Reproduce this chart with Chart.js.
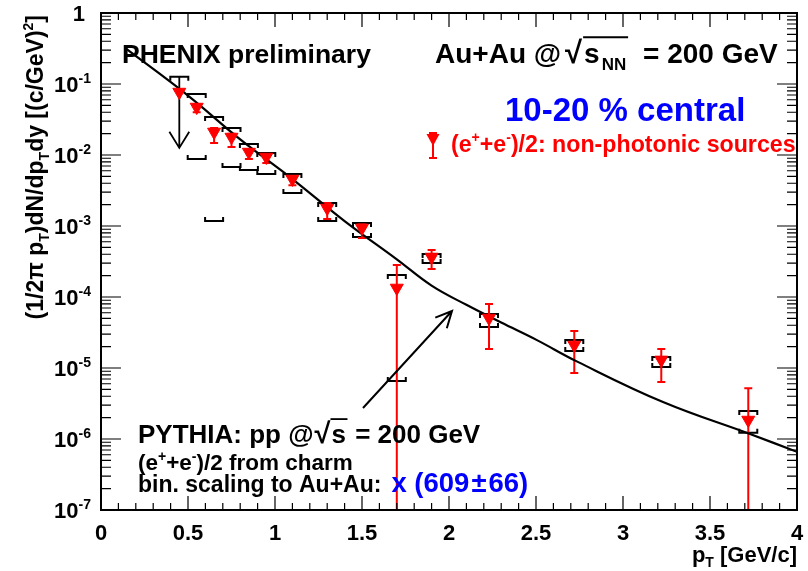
<!DOCTYPE html>
<html>
<head>
<meta charset="utf-8">
<script src="https://cdn.jsdelivr.net/npm/chart.js@4"></script>
<style>
  html, body { margin: 0; padding: 0; background: #fff; }
  #wrap { width: 808px; height: 571px; }
</style>
</head>
<body>
<div id="wrap"><canvas id="myChart" width="808" height="571"></canvas></div>
<script>
(() => {
	"use strict";

	// non-photonic electrons, 10-20 % central
	const ptValues = [0.45, 0.55, 0.65, 0.75, 0.85, 0.95, 1.1, 1.3, 1.5, 1.7, 1.9, 2.23, 2.72, 3.22, 3.72];
	const yieldValues = [0.077, 0.0474, 0.0211, 0.0179, 0.011, 0.00937, 0.00459, 0.00179, 9.4e-4, 1.34e-4, 3.66e-4, 5.06e-5, 2.11e-5, 1.3e-5, 1.85e-6];
	const statLow = [null, 0.04, 0.0147, 0.013, 0.0088, 0.0077, 0.00376, 0.00125, 6.8e-4, 1e-9, 2.48e-4, 1.85e-5, 8.5e-6, 6.35e-6, 1e-9];
	const statHigh = [null, 0.052, 0.024, 0.02, 0.012, 0.01, 0.005, 0.0021, 1.05e-3, 2.82e-4, 4.6e-4, 7.97e-5, 3.32e-5, 1.85e-5, 5.2e-6];
	const sysLow = [null, 0.00879, 0.00118, 0.00678, 0.00615, 0.0054, 0.00292, 0.00118, 7.0e-4, 6.56e-6, 3.0e-4, 3.78e-5, 1.73e-5, 1.03e-5, 1.22e-6];
	const sysHigh = [0.126, 0.0723, 0.0343, 0.024, 0.0143, 0.0107, 0.0054, 0.0021, 0.0011, 2.04e-4, 4.03e-4, 5.76e-5, 2.48e-5, 1.43e-5, 2.48e-6];
	// first point is an upper limit, arrow goes down to here
	const upperLimitTo = [0.0126, null, null, null, null, null, null, null, null, null, null, null, null, null, null];

	// PYTHIA charm curve scaled to Au+Au
	const pythiaPt = [0.14, 0.5, 0.8, 1.1, 1.4, 1.7, 1.9, 2.1, 2.3, 2.5, 2.74, 3.23, 3.73, 4.0];
	const pythiaYield = [0.32, 0.0687, 0.0166, 0.00459, 0.001175, 3.39e-4, 1.445e-4, 7.76e-5, 4.37e-5, 2.51e-5, 1.22e-5, 3.32e-6, 1.175e-6, 6.6e-7];

	// tick labels
	const xTickValues = [0, 0.5, 1, 1.5, 2, 2.5, 3, 3.5, 4];
	const xTickLabels = ["0", "0.5", "1", "1.5", "2", "2.5", "3", "3.5", "4"];
	const yTickValues = [1, 1e-1, 1e-2, 1e-3, 1e-4, 1e-5, 1e-6, 1e-7];
	const yTickExps = [null, "-1", "-2", "-3", "-4", "-5", "-6", "-7"];

	const FONT = "'Liberation Sans', Arial, Helvetica, sans-serif";
	const RED = "#ff0000";
	const BLUE = "#0000ff";

	// text with sup/sub parts: {t, m: "sup"|"sub", s: size, gap: extra px before, over: overline width}
	function richText(ctx, x, y, parts, size, color, align) {
		const small = Math.round(size * 0.62);
		const sizeOf = (p) => p.s || (p.m === "sup" || p.m === "sub" ? small : size);
		let total = 0;
		parts.forEach((p) => {
			ctx.font = "bold " + sizeOf(p) + "px " + FONT;
			total += ctx.measureText(p.t).width + (p.gap || 0);
		});
		let cx = x;
		if (align === "right") cx = x - total;
		if (align === "center") cx = x - total / 2;
		ctx.fillStyle = color;
		ctx.strokeStyle = color;
		ctx.textBaseline = "alphabetic";
		ctx.textAlign = "left";
		parts.forEach((p) => {
			cx += p.gap || 0;
			ctx.font = "bold " + sizeOf(p) + "px " + FONT;
			let dy = 0;
			if (p.m === "sup") dy = -size * 0.42;
			if (p.m === "sub") dy = size * 0.24;
			ctx.fillText(p.t, cx, y + dy);
			if (p.over) {
				ctx.lineWidth = 1.8;
				ctx.beginPath();
				ctx.moveTo(cx - 1, y - size * 0.92);
				ctx.lineTo(cx + p.over, y - size * 0.92);
				ctx.stroke();
			}
			cx += ctx.measureText(p.t).width;
		});
		return total;
	}

	function arrow(ctx, x1, y1, x2, y2, head, spread) {
		const a = Math.atan2(y2 - y1, x2 - x1);
		ctx.beginPath();
		ctx.moveTo(x1, y1);
		ctx.lineTo(x2, y2);
		ctx.moveTo(x2 - head * Math.cos(a - spread), y2 - head * Math.sin(a - spread));
		ctx.lineTo(x2, y2);
		ctx.lineTo(x2 - head * Math.cos(a + spread), y2 - head * Math.sin(a + spread));
		ctx.stroke();
	}

	const errorBars = {
		id: "errorBars",
		beforeDatasetsDraw(chart) {
			const { ctx, chartArea: ca } = chart;
			const xs = chart.scales.x;
			const ys = chart.scales.y;
			ctx.save();
			ctx.beginPath();
			ctx.rect(ca.left, ca.top, ca.right - ca.left, ca.bottom - ca.top);
			ctx.clip();
			ctx.lineCap = "butt";
			// systematic brackets
			ctx.strokeStyle = "#000";
			ctx.lineWidth = 2;
			ptValues.forEach((pt, i) => {
				const px = xs.getPixelForValue(pt);
				if (sysHigh[i] !== null) {
					const py = ys.getPixelForValue(sysHigh[i]);
					ctx.beginPath();
					ctx.moveTo(px - 9, py + 4);
					ctx.lineTo(px - 9, py);
					ctx.lineTo(px + 9, py);
					ctx.lineTo(px + 9, py + 4);
					ctx.stroke();
				}
				if (sysLow[i] !== null) {
					const py = ys.getPixelForValue(sysLow[i]);
					ctx.beginPath();
					ctx.moveTo(px - 9, py - 4);
					ctx.lineTo(px - 9, py);
					ctx.lineTo(px + 9, py);
					ctx.lineTo(px + 9, py - 4);
					ctx.stroke();
				}
				if (upperLimitTo[i] !== null) {
					ctx.lineWidth = 1.8;
					arrow(ctx, px, ys.getPixelForValue(sysHigh[i]), px, ys.getPixelForValue(upperLimitTo[i]), 19, 0.55);
					ctx.lineWidth = 2;
				}
			});
			// statistical error bars
			ctx.strokeStyle = RED;
			ctx.lineWidth = 2;
			ptValues.forEach((pt, i) => {
				if (statLow[i] === null) return;
				const px = xs.getPixelForValue(pt);
				const lo = Math.min(ys.getPixelForValue(statLow[i]), ca.bottom + 5);
				const hi = ys.getPixelForValue(statHigh[i]);
				ctx.beginPath();
				ctx.moveTo(px, lo);
				ctx.lineTo(px, hi);
				ctx.moveTo(px - 4, hi);
				ctx.lineTo(px + 4, hi);
				ctx.moveTo(px - 4, lo);
				ctx.lineTo(px + 4, lo);
				ctx.stroke();
			});
			ctx.restore();
		},
		afterDraw(chart) {
			const { ctx, chartArea: ca } = chart;
			const xs = chart.scales.x;
			const ys = chart.scales.y;
			ctx.save();
			// frame and inward ticks
			ctx.strokeStyle = "#000";
			ctx.lineWidth = 2;
			ctx.strokeRect(ca.left, ca.top, ca.right - ca.left, ca.bottom - ca.top);
			ctx.lineWidth = 1.2;
			ctx.beginPath();
			for (let k = 0; k <= 40; k++) {
				const px = xs.getPixelForValue(k / 10);
				const len = k % 5 === 0 ? 14 : 7;
				ctx.moveTo(px, ca.bottom);
				ctx.lineTo(px, ca.bottom - len);
				ctx.moveTo(px, ca.top);
				ctx.lineTo(px, ca.top + len);
			}
			for (let e = -7; e < 0; e++) {
				for (let m = 1; m <= 9; m++) {
					const py = ys.getPixelForValue(m * Math.pow(10, e));
					const len = m === 1 ? 20 : 10;
					ctx.moveTo(ca.left, py);
					ctx.lineTo(ca.left + len, py);
					ctx.moveTo(ca.right, py);
					ctx.lineTo(ca.right - len, py);
				}
			}
			ctx.stroke();

			// tick labels
			xTickValues.forEach((v, i) => {
				richText(ctx, xs.getPixelForValue(v), ca.bottom + 30, [{ t: xTickLabels[i] }], 22, "#000", "center");
			});
			yTickValues.forEach((v, i) => {
				const py = ys.getPixelForValue(v) + 8;
				if (yTickExps[i] === null) {
					richText(ctx, ca.left - 16, py, [{ t: "1" }], 22, "#000", "right");
				} else {
					richText(ctx, ca.left - 10, py, [{ t: "10" }, { t: yTickExps[i], m: "sup" }], 22, "#000", "right");
				}
			});

			// axis titles
			richText(ctx, ca.right, ca.bottom + 52, [{ t: "p" }, { t: "T", m: "sub" }, { t: " [GeV/c]" }], 22, "#000", "right");
			ctx.save();
			ctx.translate(43, ca.top + 2);
			ctx.rotate(-Math.PI / 2);
			richText(ctx, 0, 0, [
				{ t: "(1/2\u03c0 p" }, { t: "T", m: "sub" }, { t: ")dN/dp" }, { t: "T", m: "sub" },
				{ t: "dy [(c/GeV)" }, { t: "2", m: "sup" }, { t: "]" },
			], 23, "#000", "right");
			ctx.restore();

			// labels
			richText(ctx, 122, 63, [{ t: "PHENIX preliminary" }], 26.5, "#000", "left");
			richText(ctx, 435, 63, [
				{ t: "Au+Au @" }, { t: "\u221a", s: 31, gap: 4 }, { t: "s", over: 44, gap: 2 },
				{ t: "NN", m: "sub", s: 17, gap: 2 }, { t: " = 200 GeV", gap: 9 },
			], 28, "#000", "left");
			richText(ctx, 505, 121, [{ t: "10-20 % central" }], 33, BLUE, "left");
			richText(ctx, 451, 152, [
				{ t: "(e" }, { t: "+", m: "sup" }, { t: "+e" }, { t: "-", m: "sup" }, { t: ")/2: non-photonic sources" },
			], 23.2, RED, "left");
			// legend marker
			ctx.strokeStyle = RED;
			ctx.lineWidth = 2;
			ctx.beginPath();
			ctx.moveTo(433, 133);
			ctx.lineTo(433, 158);
			ctx.moveTo(429, 133);
			ctx.lineTo(437, 133);
			ctx.moveTo(429, 158);
			ctx.lineTo(437, 158);
			ctx.stroke();
			ctx.fillStyle = RED;
			ctx.beginPath();
			ctx.moveTo(426.5, 134);
			ctx.lineTo(439.5, 134);
			ctx.lineTo(433, 146);
			ctx.closePath();
			ctx.fill();

			richText(ctx, 138, 443, [
				{ t: "PYTHIA: pp @" }, { t: "\u221a", s: 29, gap: 1 }, { t: "s", over: 16, gap: 1 }, { t: " = 200 GeV", gap: 2 },
			], 26, "#000", "left");
			richText(ctx, 138, 470, [
				{ t: "(e" }, { t: "+", m: "sup" }, { t: "+e" }, { t: "-", m: "sup" }, { t: ")/2 from charm" },
			], 22.5, "#000", "left");
			const w = richText(ctx, 138, 492, [{ t: "bin. scaling to Au+Au:" }], 23, "#000", "left");
			richText(ctx, 138 + w + 10, 492, [{ t: "x" }, { t: " (609" }, { t: "\u00b1", gap: 2 }, { t: "66)", gap: 2 }], 27.5, BLUE, "left");

			// arrow pointing at the curve
			ctx.strokeStyle = "#000";
			ctx.lineWidth = 2;
			arrow(ctx, 363, 408, 452, 311, 18, 0.45);
			ctx.restore();
		},
	};

	const ctx = document.getElementById("myChart");
	// eslint-disable-next-line no-unused-vars
	const myChart = new Chart(ctx, {
		type: "scatter",
		data: {
			datasets: [
				{
					label: "(e+e-)/2: non-photonic sources",
					data: ptValues.map((x, i) => ({ x: x, y: yieldValues[i] })),
					pointStyle: "triangle",
					rotation: 180,
					pointRadius: 7.5,
					pointBackgroundColor: RED,
					pointBorderColor: RED,
					pointBorderWidth: 1,
				},
				{
					label: "PYTHIA",
					type: "line",
					data: pythiaPt.map((x, i) => ({ x: x, y: pythiaYield[i] })),
					borderColor: "#000",
					borderWidth: 2.2,
					pointRadius: 0,
					tension: 0.4,
					fill: false,
				},
			],
		},
		options: {
			responsive: false,
			animation: false,
			layout: {
				padding: { left: 101, top: 13, right: 11, bottom: 61 },
			},
			plugins: {
				legend: { display: false },
				tooltip: { enabled: false },
			},
			scales: {
				x: { type: "linear", min: 0, max: 4, display: false },
				y: { type: "logarithmic", min: 1e-7, max: 1, display: false },
			},
		},
		plugins: [errorBars],
	});
})();
</script>
</body>
</html>
